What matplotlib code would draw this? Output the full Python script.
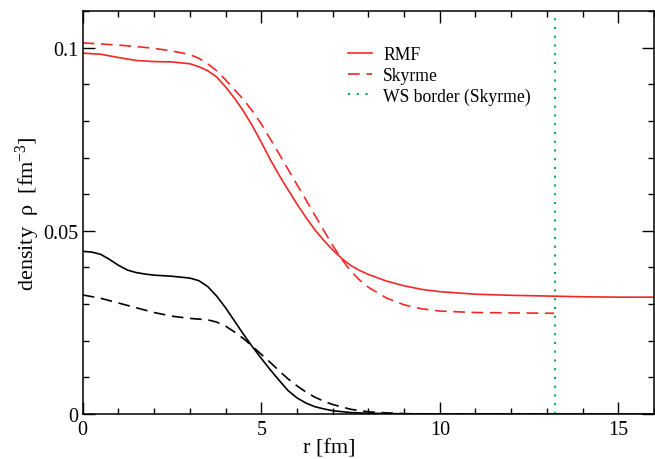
import matplotlib
matplotlib.use("Agg")
import matplotlib.pyplot as plt
from matplotlib.ticker import MultipleLocator

plt.rcParams['font.family'] = ['Liberation Serif', 'DejaVu Serif']
plt.rcParams['mathtext.fontset'] = 'custom'
plt.rcParams['mathtext.rm'] = 'Liberation Serif'
plt.rcParams['mathtext.it'] = 'Liberation Serif'

# Red curves (upper)
r_red = [0, 0.5, 1, 1.5, 2, 2.5, 3, 3.25, 3.5, 3.75, 4, 4.25, 4.5, 4.75, 5, 5.25, 5.5, 5.75,
         6, 6.25, 6.5, 6.75, 7, 7.25, 7.5, 7.75, 8, 8.5, 9, 9.5, 10, 11, 12, 13, 14, 15, 16]
rmf_red = [0.0985, 0.0982, 0.0973, 0.0965, 0.0962, 0.0961, 0.0956, 0.0948, 0.0937, 0.0920,
           0.0893, 0.0862, 0.0827, 0.0787, 0.0742, 0.0695, 0.0652, 0.0612, 0.0573, 0.0537,
           0.0503, 0.0474, 0.0448, 0.0425, 0.0406, 0.0392, 0.0381, 0.0363, 0.0350, 0.0340,
           0.0334, 0.0327, 0.0324, 0.0322, 0.0320, 0.0319, 0.0319]
r_red_sky = [0, 0.5, 1, 1.5, 2, 2.5, 3, 3.25, 3.5, 3.75, 4, 4.25, 4.5, 4.75, 5, 5.25, 5.5,
             5.75, 6, 6.25, 6.5, 6.75, 7, 7.25, 7.5, 7.75, 8, 8.5, 9, 9.5, 10, 11, 12, 13.2]
sky_red = [0.1013, 0.1010, 0.1007, 0.1003, 0.0998, 0.0991, 0.0981, 0.0971, 0.0956, 0.0937,
           0.0912, 0.0885, 0.0859, 0.0827, 0.0792, 0.0751, 0.0710, 0.0668, 0.0626, 0.0585,
           0.0543, 0.0501, 0.0460, 0.0423, 0.0391, 0.0366, 0.0346, 0.0317, 0.0298, 0.0287,
           0.0281, 0.0277, 0.0276, 0.0275]

# Black curves (lower)
r_blk = [0, 0.25, 0.5, 0.75, 1, 1.25, 1.5, 1.75, 2, 2.5, 3, 3.25, 3.5, 3.75, 4, 4.25, 4.5,
         4.75, 5, 5.25, 5.5, 5.75, 6, 6.25, 6.5, 6.75, 7, 7.5, 8, 9, 10, 12, 16]
rmf_blk = [0.0444, 0.0442, 0.0436, 0.0422, 0.0406, 0.0393, 0.0386, 0.0382, 0.0379, 0.0376,
           0.0371, 0.0364, 0.0348, 0.0322, 0.0290, 0.0254, 0.0218, 0.0184, 0.0152, 0.0121,
           0.0092, 0.0064, 0.0044, 0.0030, 0.0020, 0.0014, 0.0009, 0.0004, 0.0002, 0.00005,
           0.0, 0.0, 0.0]
r_blk_sky = [0, 0.5, 1, 1.5, 2, 2.5, 3, 3.5, 3.75, 4, 4.25, 4.5, 4.75, 5, 5.25, 5.5,
             5.75, 6, 6.25, 6.5, 6.75, 7, 7.5, 8, 8.5, 9, 10, 13.2]
sky_blk = [0.0325, 0.0316, 0.0303, 0.0290, 0.0277, 0.0267, 0.0261, 0.0257, 0.0251,
           0.0240, 0.0224, 0.0206, 0.0185, 0.0163, 0.0141, 0.0118, 0.0096, 0.0077,
           0.0060, 0.0046, 0.0035, 0.0026, 0.0013, 0.0006, 0.0003, 0.0001, 0.0, 0.0]

ws_border = 13.22

red = '#f02828'
green = '#00b050'

fig = plt.figure(figsize=(6.55, 4.6), dpi=100)
ax = fig.add_axes([0.1263, 0.0978, 0.8722, 0.8761])

lw = 1.2
dash = (0, (7, 4))
ax.plot(r_red, rmf_red, color=red, lw=lw, label='RMF')
ax.plot(r_red_sky, sky_red, color=red, lw=lw, ls=dash, label='Skyrme')
ax.axvline(ws_border, color=green, lw=1.5, ls=(0, (1, 3.2)), label='WS border (Skyrme)')
ax.plot(r_blk, rmf_blk, color='black', lw=lw)
ax.plot(r_blk_sky, sky_blk, color='black', lw=lw, ls=dash)

ax.set_xlim(0, 16)
ax.set_ylim(0, 0.110)
ax.xaxis.set_minor_locator(MultipleLocator(1))
ax.yaxis.set_minor_locator(MultipleLocator(0.01))
ax.set_xticks([0, 5, 10, 15])
ax.set_xticklabels(['0', '5', '10', '15'])
ax.set_yticks([0, 0.05, 0.1])
ax.set_yticklabels(['0', '0.05', '0.1'])
ax.tick_params(which='both', direction='in', top=True, right=True, labelsize=14.5, width=1.0)
ax.tick_params(which='major', length=8.5, pad=3)
ax.tick_params(axis='x', which='major', pad=4)
ax.tick_params(which='minor', length=4.5)
for s in ax.spines.values():
    s.set_linewidth(1.1)

ax.set_xlabel('r [fm]', fontsize=16)
ax.xaxis.set_label_coords(0.432, -0.062)
ax.set_ylabel(r'density  ρ  [fm$^{-3}$]', fontsize=16)
ax.yaxis.set_label_coords(-0.071, 0.50)

leg = ax.legend(loc='upper left', bbox_to_anchor=(0.452, 0.930), frameon=False,
                fontsize=12.7, handlelength=1.36, handletextpad=0.63,
                labelspacing=0.2, borderaxespad=0)

fig.savefig('out.png', dpi=100)
